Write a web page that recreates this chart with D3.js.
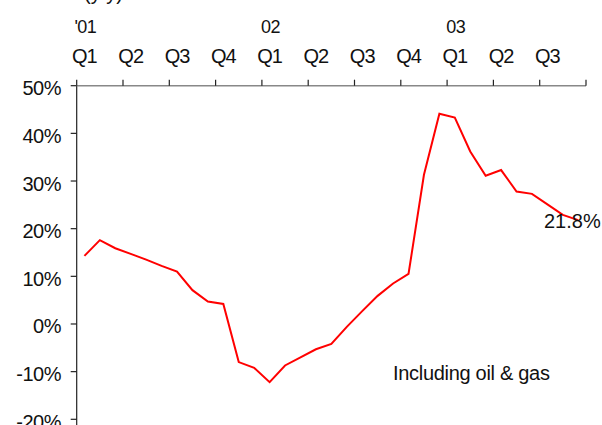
<!DOCTYPE html>
<html>
<head>
<meta charset="utf-8">
<script src="https://cdn.jsdelivr.net/npm/d3@7"></script>
<style>
  body { margin: 0; background: #fff; }
  text { font-family: Arial, "Liberation Sans", sans-serif; fill: #111; }
</style>
</head>
<body>
<svg id="chart" width="602" height="425"></svg>
<script>
// Monthly series, Jan '01 = month 0 ... Sep '03 = month 32
var months = [0, 1, 2, 3, 4, 5, 6, 7, 8, 9, 10, 11, 12, 13, 14, 15, 16,
              17, 18, 19, 20, 21, 22, 23, 24, 25, 26, 27, 28, 29, 30, 31, 32];
var growth = [14.3, 17.6, 15.9, 14.7, 13.5, 12.2, 11.0, 7.1, 4.7, 4.2, -8.0,
              -9.2, -12.2, -8.7, -7.0, -5.3, -4.2, -0.6, 2.7, 5.9, 8.5, 10.5,
              31.3, 44.1, 43.3, 36.2, 31.1, 32.3, 27.8, 27.3, 25.1, 22.9, 21.8];

var quarterLabels = ["Q1", "Q2", "Q3", "Q4", "Q1", "Q2", "Q3", "Q4", "Q1", "Q2", "Q3"];
var yearLabels = [{q: 0, label: "'01"}, {q: 4, label: "02"}, {q: 8, label: "03"}];
var yTicks = [-20, -10, 0, 10, 20, 30, 40, 50];
var lastLabel = "21.8%";
var note = "Including oil & gas";

const svg = d3.select('#chart');

const x = d3.scaleLinear().domain([0, 33]).range([76.7, 586]);
const y = d3.scaleLinear().domain([-20, 50]).range([419.3, 85.7]);

// partially visible title at the top edge
svg.append('text')
  .attr('x', 84).attr('y', 0)
  .style('font-size', '20px')
  .text('(y/y)');

// y axis
svg.append('line')
  .attr('x1', x(0)).attr('x2', x(0))
  .attr('y1', y(50)).attr('y2', 425)
  .style('stroke', '#222').style('stroke-width', 1.2);

svg.selectAll('.ytick')
  .data(yTicks)
  .enter().append('line')
  .attr('class', 'ytick')
  .attr('x1', x(0) - 6).attr('x2', x(0))
  .attr('y1', d => y(d)).attr('y2', d => y(d))
  .style('stroke', '#222').style('stroke-width', 1.2);

svg.selectAll('.ylab')
  .data(yTicks)
  .enter().append('text')
  .attr('class', 'ylab')
  .attr('x', 61)
  .attr('y', d => y(d) + 9.5)
  .attr('text-anchor', 'end')
  .style('font-size', '20px')
  .style('letter-spacing', '-0.5px')
  .text(d => d + '%');

// top x axis (at 50%)
svg.append('line')
  .attr('x1', x(0)).attr('x2', x(33))
  .attr('y1', y(50)).attr('y2', y(50))
  .style('stroke', '#888').style('stroke-width', 1.5);

svg.selectAll('.xtick')
  .data(d3.range(0, 34, 3))
  .enter().append('line')
  .attr('class', 'xtick')
  .attr('x1', d => x(d)).attr('x2', d => x(d))
  .attr('y1', y(50) - 6).attr('y2', y(50))
  .style('stroke', '#222').style('stroke-width', 1.2);

svg.selectAll('.qlab')
  .data(quarterLabels)
  .enter().append('text')
  .attr('class', 'qlab')
  .attr('x', (d, i) => x(i * 3 + 0.5))
  .attr('y', 63)
  .attr('text-anchor', 'middle')
  .style('font-size', '20px')
  .style('letter-spacing', '-1px')
  .text(d => d);

svg.selectAll('.ylabel')
  .data(yearLabels)
  .enter().append('text')
  .attr('class', 'ylabel')
  .attr('x', d => x(d.q * 3 + 0.5) + 1)
  .attr('y', 33)
  .attr('text-anchor', 'middle')
  .style('font-size', '18px')
  .style('letter-spacing', '-0.5px')
  .text(d => d.label);

// series line
const data = months.map((m, i) => ({m: m, v: growth[i]}));
const line = d3.line()
  .x(d => x(d.m + 0.5))
  .y(d => y(d.v));

svg.append('path')
  .datum(data)
  .attr('d', line)
  .style('fill', 'none')
  .style('stroke', '#ff0000')
  .style('stroke-width', 2);

// end value label
svg.append('text')
  .attr('x', 544).attr('y', 227.5)
  .style('font-size', '20px')
  .text(lastLabel);

svg.append('text')
  .attr('x', 393).attr('y', 379.5)
  .style('font-size', '20px')
  .style('letter-spacing', '-0.3px')
  .text(note);
</script>
</body>
</html>
